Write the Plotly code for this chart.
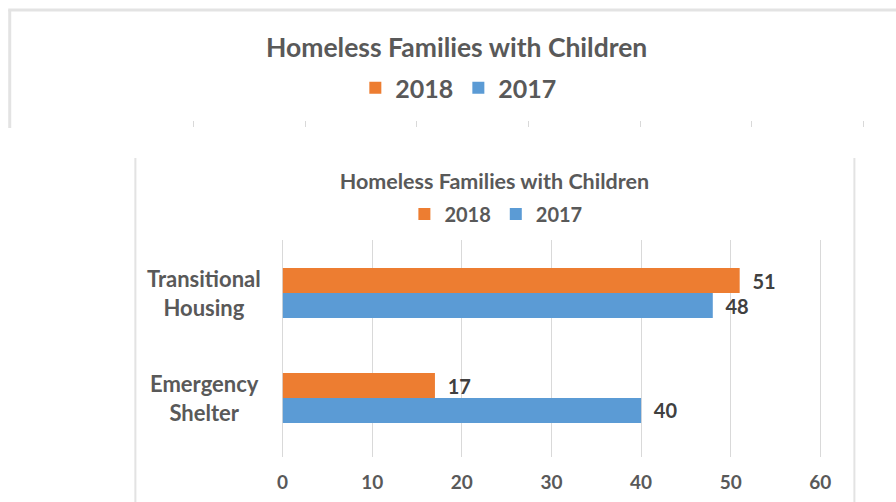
import plotly.graph_objects as go

# ---- data ----
categories = ["Emergency Shelter", "Transitional Housing"]
category_labels = ["Emergency<br>Shelter", "Transitional<br>Housing"]
values_2017 = [40, 48]
values_2018 = [17, 51]
series_names = ["2017", "2018"]
x_ticks = [0, 10, 20, 30, 40, 50, 60]
title_text = "Homeless Families with Children"

ORANGE = "#ED7D31"
BLUE = "#5B9BD5"
GRID = "#d9d9d9"
TXT = "#595959"
FONT = "Lato"

W, H = 896, 502
XMAX = 60.3  # a hair past 60 so the last gridline is kept

# horizontal compensation for the slight horizontal squeeze seen in the photographed page
SQ, OFF = 0.983, 6.8


def px_x(p):
    return ((p - OFF) / SQ) / W


def px_y(p):
    return 1 - p / H


def dom(x0_px, x60_px):
    a = (x0_px - OFF) / SQ
    b = (x60_px - OFF) / SQ
    return [a / W, (a + (b - a) * XMAX / 60) / W]


fig = go.Figure()

# lower (main) chart bars
for name, vals, col in [(series_names[0], values_2017, BLUE), (series_names[1], values_2018, ORANGE)]:
    fig.add_trace(go.Bar(
        y=categories, x=vals, name=name, orientation="h",
        marker=dict(color=col, line=dict(width=0)),
        text=vals, texttemplate="\u00a0\u00a0%{x}", textposition="outside",
        textfont=dict(family=FONT, size=20, color="#404040", weight="bold"),
        cliponaxis=False, legend="legend", xaxis="x", yaxis="y",
    ))

# upper (cropped) copy of the chart: only its top sliver is visible
for name, vals, col in [(series_names[0], values_2017, BLUE), (series_names[1], values_2018, ORANGE)]:
    fig.add_trace(go.Bar(
        y=categories, x=vals, name=name, orientation="h",
        marker=dict(color=col, line=dict(width=0)),
        legend="legend2", xaxis="x2", yaxis="y2",
    ))

fig.update_layout(
    width=W, height=H,
    margin=dict(l=0, r=0, t=0, b=0),
    paper_bgcolor="white", plot_bgcolor="white",
    barmode="group", bargap=0.524, bargroupgap=0,
    showlegend=True,
    title=dict(text=title_text, x=px_x(494.5), xanchor="center", xref="paper",
               y=px_y(181), yanchor="middle", yref="paper",
               font=dict(family=FONT, size=21.5, color=TXT, weight="bold")),
    xaxis=dict(domain=dom(283, 820), range=[0, XMAX], tickvals=x_ticks,
               showgrid=True, gridcolor=GRID, gridwidth=1,
               zeroline=True, zerolinecolor=GRID, zerolinewidth=1,
               showline=False, ticks="", ticklabelstandoff=12,
               tickfont=dict(family=FONT, size=19, color=TXT, weight="bold"),
               anchor="y", fixedrange=True),
    yaxis=dict(domain=[px_y(457), px_y(240)], range=[-0.562, 1.505],
               type="category", categoryorder="array", categoryarray=categories,
               showticklabels=False, showgrid=False, zeroline=False, showline=False,
               anchor="x"),
    xaxis2=dict(domain=dom(194, 863), range=[0, XMAX], tickvals=x_ticks,
                showgrid=True, gridcolor=GRID, gridwidth=1,
                zeroline=True, zerolinecolor=GRID, zerolinewidth=1,
                showticklabels=False, ticks="", showline=False, anchor="y2"),
    yaxis2=dict(domain=[px_y(127), px_y(121)], range=[1.45, 1.5],
                type="category", categoryorder="array", categoryarray=categories,
                showticklabels=False, showgrid=False, zeroline=False, showline=False,
                anchor="x2"),
    legend=dict(orientation="h", x=px_x(496), xanchor="center", y=px_y(214), yanchor="middle",
                traceorder="reversed", font=dict(family=FONT, size=20, color=TXT, weight="bold"),
                bgcolor="rgba(0,0,0,0)", itemclick=False, itemdoubleclick=False),
    legend2=dict(orientation="h", x=px_x(459), xanchor="center", y=px_y(88), yanchor="middle",
                 traceorder="reversed", font=dict(family=FONT, size=25, color=TXT, weight="bold"),
                 bgcolor="rgba(0,0,0,0)", itemclick=False, itemdoubleclick=False),
)

# category labels, centred, placed on the category axis
for cat, lab in zip(categories, category_labels):
    fig.add_annotation(x=px_x(205), xref="paper", y=cat, yref="y", text=lab,
                       showarrow=False, align="center", xanchor="center", yanchor="middle",
                       font=dict(family=FONT, size=22, color=TXT, weight="bold"))

# upper chart title
fig.add_annotation(x=px_x(456.5), xref="paper", y=px_y(47), yref="paper", text=title_text,
                   showarrow=False, xanchor="center", yanchor="middle",
                   font=dict(family=FONT, size=26.5, color=TXT, weight="bold"))

# frames of the two chart images
FRAME = "#e3e3e3"
shapes = [
    dict(type="line", xref="paper", yref="paper", x0=px_x(10.5), x1=px_x(10.5), y0=px_y(10), y1=px_y(128),
         line=dict(color=FRAME, width=3)),
    dict(type="line", xref="paper", yref="paper", x0=px_x(9), x1=1.02, y0=px_y(10), y1=px_y(10),
         line=dict(color=FRAME, width=3)),
    dict(type="line", xref="paper", yref="paper", x0=px_x(136), x1=px_x(136), y0=px_y(158), y1=0,
         line=dict(color=FRAME, width=2)),
    dict(type="line", xref="paper", yref="paper", x0=px_x(854), x1=px_x(854), y0=px_y(158), y1=0,
         line=dict(color=FRAME, width=2)),
]
fig.update_layout(shapes=shapes)

fig.write_html("out.html", config={"responsive": False, "displayModeBar": False},
               post_script="document.body.style.margin='0';document.body.style.overflow='hidden';")
